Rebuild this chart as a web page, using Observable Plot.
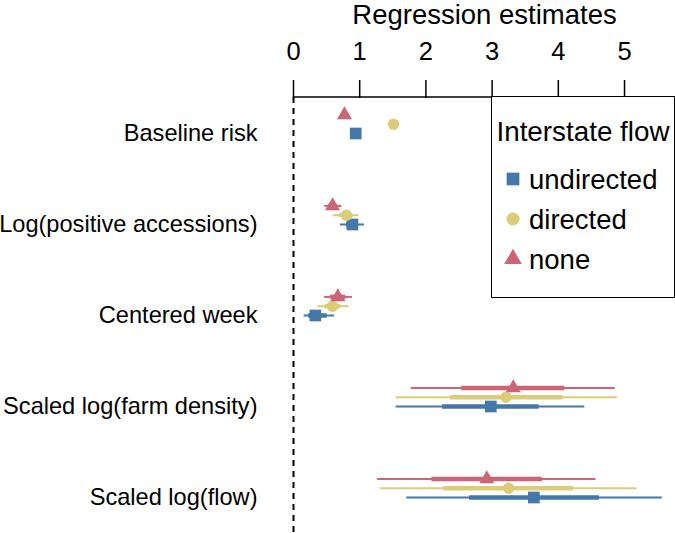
<!DOCTYPE html>
<html>
<head>
<meta charset="utf-8">
<script src="https://cdn.jsdelivr.net/npm/d3@7"></script>
<script src="https://cdn.jsdelivr.net/npm/@observablehq/plot@0.6"></script>
<style>
  body { margin: 0; background: white; }
  #wrap { position: relative; width: 675px; height: 533px; font-family: "Liberation Sans", Arial, sans-serif; }
  #legend { position: absolute; left: 491px; top: 96px; width: 184px; height: 202px; box-sizing: border-box; border: 1.5px solid black; background: white; }
</style>
</head>
<body>
<div id="wrap"></div>
<script>
const categories = ["Baseline risk", "Log(positive accessions)", "Centered week", "Scaled log(farm density)", "Scaled log(flow)"];
const seriesNames = ["undirected", "directed", "none"];
const legendTitle = "Interstate flow";
const xTitle = "Regression estimates";
const xTicks = [0, 1, 2, 3, 4, 5];

const estUndirected = [0.94, 0.89, 0.33, 2.98, 3.63];
const lo95Undirected = [null, 0.71, 0.16, 1.55, 1.71];
const hi95Undirected = [null, 1.07, 0.62, 4.40, 5.57];
const lo50Undirected = [null, 0.80, 0.23, 2.25, 2.66];
const hi50Undirected = [null, 0.98, 0.51, 3.71, 4.62];

const estDirected = [1.51, 0.80, 0.59, 3.21, 3.25];
const lo95Directed = [null, 0.60, 0.37, 1.55, 1.31];
const hi95Directed = [null, 0.99, 0.84, 4.89, 5.19];
const lo50Directed = [null, 0.70, 0.48, 2.37, 2.27];
const hi50Directed = [null, 0.90, 0.71, 4.07, 4.23];

const estNone = [0.77, 0.59, 0.67, 3.32, 2.92];
const lo95None = [null, 0.47, 0.47, 1.78, 1.27];
const hi95None = [null, 0.73, 0.89, 4.86, 4.57];
const lo50None = [null, 0.53, 0.56, 2.54, 2.09];
const hi50None = [null, 0.66, 0.79, 4.10, 3.76];

const colors = {undirected: "#4477AA", directed: "#DDCC77", none: "#CC6677"};
const symbols = {undirected: "square", directed: "circle", none: "triangle"};
const radii = {undirected: 6.6, directed: 5.7, none: 5.6};
const offsets = {undirected: 0, directed: -9.3, none: -18.6};

function build(name, est, lo95, hi95, lo50, hi50) {
  return categories.map((c, i) => ({category: c, series: name, est: est[i], lo95: lo95[i], hi95: hi95[i], lo50: lo50[i], hi50: hi50[i]}));
}
const series = [
  build("undirected", estUndirected, lo95Undirected, hi95Undirected, lo50Undirected, hi50Undirected),
  build("directed", estDirected, lo95Directed, hi95Directed, lo50Directed, hi50Directed),
  build("none", estNone, lo95None, hi95None, lo50None, hi50None)
];

const font = '"Liberation Sans", Arial, sans-serif';

const lineMarks = [];
const dotMarks = [];
for (const rows of series) {
  const name = rows[0].series;
  const withCI = rows.filter(d => d.lo95 != null);
  lineMarks.push(Plot.ruleY(withCI, {y: "category", x1: "lo95", x2: "hi95", stroke: colors[name], strokeWidth: 2, dy: offsets[name]}));
  lineMarks.push(Plot.ruleY(withCI, {y: "category", x1: "lo50", x2: "hi50", stroke: colors[name], strokeWidth: 4.5, dy: offsets[name]}));
  dotMarks.push(Plot.dot(rows, {x: "est", y: "category", symbol: () => symbols[name], fill: colors[name], r: radii[name], dy: offsets[name]}));
}

const topLine = (index, scales, values, dims) => {
  const l = document.createElementNS("http://www.w3.org/2000/svg", "line");
  l.setAttribute("x1", dims.marginLeft);
  l.setAttribute("x2", dims.width - dims.marginRight);
  l.setAttribute("y1", dims.marginTop);
  l.setAttribute("y2", dims.marginTop);
  l.setAttribute("stroke", "black");
  l.setAttribute("stroke-width", 1.5);
  return l;
};

const chart = Plot.plot({
  width: 675,
  height: 533,
  marginLeft: 293,
  marginRight: 0,
  marginTop: 97,
  marginBottom: 0,
  style: {fontFamily: font, color: "black", background: "white", overflow: "visible"},
  x: {domain: [0, 5.77]},
  y: {type: "point", domain: categories, padding: 0.38},
  marks: [
    Plot.ruleX([0], {strokeDasharray: "6,5", strokeWidth: 2}),
    Plot.axisX({anchor: "top", ticks: xTicks, tickFormat: d3.format("d"), tickSize: 18, tickPadding: 20, fontSize: 25.5, label: null, strokeWidth: 1.5}),
    topLine,
    Plot.axisY({tickSize: 0, tickPadding: 36, fontSize: 23.6, label: null}),
    Plot.text([xTitle], {frameAnchor: "top", dy: -93, fontSize: 27.5, text: d => d}),
    ...lineMarks,
    ...dotMarks
  ]
});

const wrap = document.getElementById("wrap");
wrap.appendChild(chart);

// Legend
const legend = document.createElement("div");
legend.id = "legend";
wrap.appendChild(legend);
const lsvg = d3.select(legend).append("svg").attr("width", 181).attr("height", 199).style("display", "block");
lsvg.append("text").attr("x", 91).attr("y", 34).attr("text-anchor", "middle").attr("dominant-baseline", "central")
  .attr("font-family", font).attr("font-size", 27.8).text(legendTitle);
const legendSizes = {undirected: 161, directed: 133, none: 136};
const symbolTypes = {undirected: d3.symbolSquare, directed: d3.symbolCircle, none: d3.symbolTriangle};
seriesNames.forEach((name, i) => {
  const cy = 82 + i * 40;
  lsvg.append("path").attr("d", d3.symbol().type(symbolTypes[name]).size(legendSizes[name])())
    .attr("transform", `translate(21,${cy})`).attr("fill", colors[name]);
  lsvg.append("text").attr("x", 37).attr("y", cy).attr("dominant-baseline", "central")
    .attr("font-family", font).attr("font-size", 27.5).text(name);
});
</script>
</body>
</html>
